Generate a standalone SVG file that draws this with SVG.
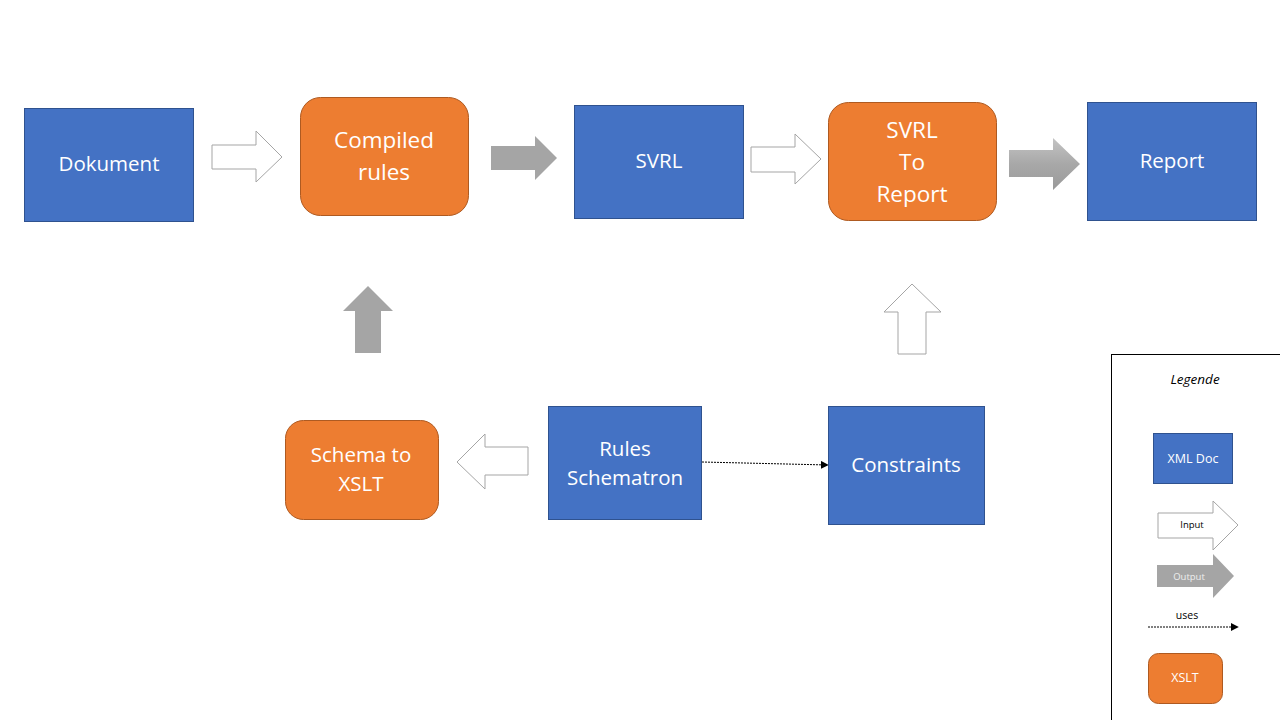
<svg xmlns="http://www.w3.org/2000/svg" width="1280" height="720" viewBox="0 0 1280 720">
<defs>
<style>
.doc{fill:#4472C4;stroke:#2F528F;stroke-width:1}
.xslt{fill:#ED7D31;stroke:#AE5A21;stroke-width:1}
.lbl{font-family:"Open Sans","Noto Sans","Liberation Sans",sans-serif;fill:#fff;text-anchor:middle}
.in{fill:#fff;stroke:#A5A5A5;stroke-width:1}
.out{fill:#A5A5A5;stroke:none}
.uses{stroke:#000;stroke-width:1;stroke-dasharray:2,1;fill:none}
</style>
<linearGradient id="g" x1="0" y1="0" x2="0" y2="1">
<stop offset="0" stop-color="#c4c4c4"/>
<stop offset="0.5" stop-color="#a8a8a8"/>
<stop offset="1" stop-color="#9a9a9a"/>
</linearGradient>
<marker id="ah" viewBox="0 0 10 10" refX="9" refY="5" markerWidth="8" markerHeight="8" markerUnits="userSpaceOnUse" orient="auto">
<path d="M0,0 L10,5 L0,10 z" fill="#000"/>
</marker>
</defs>
<rect width="1280" height="720" fill="#fff"/>

<g id="connectors">
<polygon class="in" points="212,145 256,145 256,131 282,157 256,182 256,169 212,169"/>
<polygon class="out" points="491,146 535,146 535,136 557,158 535,180 535,170 491,170"/>
<polygon class="in" points="751,147 795,147 795,134 821,159 795,184 795,172 751,172"/>
<polygon fill="url(#g)" points="1009,150 1053,150 1053,138 1080,164 1053,190 1053,177 1009,177"/>
<polygon class="out" points="355,353 355,311 343,311 368,286 393,311 381,311 381,353"/>
<polygon class="in" points="898,354 898,312 884,312 912,284 941,312 926,312 926,354"/>
<polygon class="in" points="528,447 485,447 485,434 457,462 485,489 485,475 528,475"/>
<line class="uses" x1="702" y1="462" x2="828" y2="465" marker-end="url(#ah)"/>
</g>

<g id="dokument"><rect class="doc" x="24.5" y="108.5" width="169" height="113"/><text class="lbl" x="109" y="171" font-size="20.5">Dokument</text></g>
<g id="compiled-rules"><rect class="xslt" x="300.5" y="97.5" width="168" height="118" rx="20"/><text class="lbl" x="384" y="148" font-size="22.5">Compiled</text><text class="lbl" x="384" y="180" font-size="22.5">rules</text></g>
<g id="svrl"><rect class="doc" x="574.5" y="105.5" width="169" height="113"/><text class="lbl" x="659" y="168" font-size="20.5">SVRL</text></g>
<g id="svrl-to-report"><rect class="xslt" x="828.5" y="102.5" width="168" height="118" rx="20"/><text class="lbl" x="912" y="138" font-size="22.5">SVRL</text><text class="lbl" x="912" y="170" font-size="22.5">To</text><text class="lbl" x="912" y="202" font-size="22.5">Report</text></g>
<g id="report"><rect class="doc" x="1087.5" y="102.5" width="169" height="118"/><text class="lbl" x="1172" y="168" font-size="20.5">Report</text></g>
<g id="schema-to-xslt"><rect class="xslt" x="285.5" y="420.5" width="153" height="99" rx="18"/><text class="lbl" x="361" y="462" font-size="20.5">Schema to</text><text class="lbl" x="361" y="491" font-size="20.5">XSLT</text></g>
<g id="rules-schematron"><rect class="doc" x="548.5" y="406.5" width="153" height="113"/><text class="lbl" x="625" y="456" font-size="20.5">Rules</text><text class="lbl" x="625" y="485" font-size="20.5">Schematron</text></g>
<g id="constraints"><rect class="doc" x="828.5" y="406.5" width="156" height="118"/><text class="lbl" x="906" y="472" font-size="20.5">Constraints</text></g>

<g id="legend">
<rect x="1111.5" y="354.5" width="200" height="400" fill="none" stroke="#000" stroke-width="1"/>
<text x="1195" y="384" font-family="Open Sans,Noto Sans,sans-serif" font-style="italic" font-size="13.5" text-anchor="middle" fill="#000">Legende</text>
<rect class="doc" x="1153.5" y="433.5" width="79" height="50"/>
<text class="lbl" x="1193" y="463" font-size="12.5">XML Doc</text>
<polygon class="in" points="1158,513 1213,513 1213,501 1238,525 1213,550 1213,538 1158,538"/>
<text x="1192" y="528" font-family="Open Sans,Noto Sans,sans-serif" font-size="9.5" text-anchor="middle" fill="#000">Input</text>
<polygon class="out" points="1157,565 1213,565 1213,554 1234,576 1213,598 1213,587 1157,587"/>
<text x="1189" y="580" font-family="Open Sans,Noto Sans,sans-serif" font-size="9.5" text-anchor="middle" fill="#eee">Output</text>
<text x="1187" y="619" font-family="Open Sans,Noto Sans,sans-serif" font-size="10.5" text-anchor="middle" fill="#000">uses</text>
<line class="uses" x1="1148" y1="627" x2="1238" y2="627" marker-end="url(#ah)"/>
<rect class="xslt" x="1148.5" y="653.5" width="74" height="50" rx="10"/>
<text class="lbl" x="1185" y="682" font-size="12.5">XSLT</text>
</g>
</svg>
